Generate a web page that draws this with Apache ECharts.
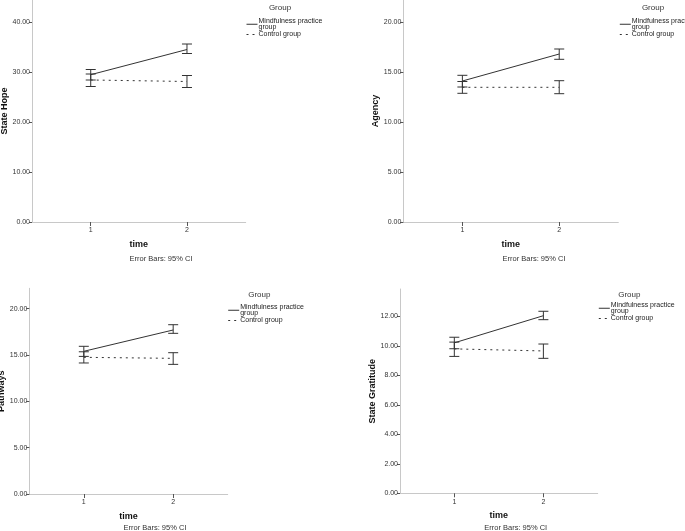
<!DOCTYPE html>
<html><head><meta charset="utf-8">
<script src="https://cdn.jsdelivr.net/npm/echarts@6/dist/echarts.min.js"></script>
<style>html,body{margin:0;padding:0;background:#fff}#c{width:685px;height:531px}</style>
</head><body><div id="c"></div>
<script>
// ---- data ----
const times = [1, 2];
const groupNames = ['Mindfulness practice group', 'Control group'];
const panelTitles = ['State Hope', 'Agency', 'Pathways', 'State Gratitude'];
const yTicks = [[0,10,20,30,40],[0,5,10,15,20],[0,5,10,15,20],[0,2,4,6,8,10,12]];
const yMax = [44.4, 22.2, 22.2, 13.85];

const hopeMind = [29.46, 34.5],  hopeMindLo = [28.4, 33.7],  hopeMindHi = [30.5, 35.6];
const hopeCtrl = [28.4, 28.1],   hopeCtrlLo = [27.1, 26.9],  hopeCtrlHi = [29.6, 29.3];
const agMind = [14.1, 16.8],     agMindLo = [13.5, 16.27],   agMindHi = [14.67, 17.3];
const agCtrl = [13.47, 13.47],   agCtrlLo = [12.87, 12.83],  agCtrlHi = [14.05, 14.13];
const paMind = [15.4, 17.7],     paMindLo = [14.85, 17.34],  paMindHi = [15.94, 18.27];
const paCtrl = [14.75, 14.64],   paCtrlLo = [14.14, 13.99],  paCtrlHi = [15.35, 15.25];
const grMind = [10.2, 12.04],    grMindLo = [9.8, 11.77],    grMindHi = [10.58, 12.34];
const grCtrl = [9.79, 9.65],     grCtrlLo = [9.28, 9.15],    grCtrlHi = [10.25, 10.12];

const panels = [
  {mind: hopeMind, mindLo: hopeMindLo, mindHi: hopeMindHi, ctrl: hopeCtrl, ctrlLo: hopeCtrlLo, ctrlHi: hopeCtrlHi},
  {mind: agMind, mindLo: agMindLo, mindHi: agMindHi, ctrl: agCtrl, ctrlLo: agCtrlLo, ctrlHi: agCtrlHi},
  {mind: paMind, mindLo: paMindLo, mindHi: paMindHi, ctrl: paCtrl, ctrlLo: paCtrlLo, ctrlHi: paCtrlHi},
  {mind: grMind, mindLo: grMindLo, mindHi: grMindHi, ctrl: grCtrl, ctrlLo: grCtrlLo, ctrlHi: grCtrlHi}
];

// ---- layout ----
const FONT = 'Liberation Sans, Arial, sans-serif';
const grids = [
  {left: 32, top: 0, width: 213.7, height: 222},
  {left: 403.3, top: 0, width: 215, height: 222},
  {left: 29.3, top: 288.3, width: 198.4, height: 205.7},
  {left: 400, top: 289, width: 197.7, height: 204.3}
];
const legendPos = [
  {left: 246, top: 17.5, groupX: 280, groupY: 7.5, ebX: 161, ebY: 259},
  {left: 619.3, top: 17.5, groupX: 653, groupY: 7.5, ebX: 534, ebY: 259},
  {left: 227.7, top: 303.5, groupX: 259.3, groupY: 295, ebX: 155, ebY: 527.5},
  {left: 598.3, top: 301.5, groupX: 629.3, groupY: 295, ebX: 515.7, ebY: 527.5}
];

const xAxes = [], yAxes = [], series = [], legends = [], graphics = [];

function errRender(params, api) {
  const x = api.value(0), lo = api.value(1), hi = api.value(2);
  const a = api.coord([x, hi]), b = api.coord([x, lo]);
  const hw = 5;
  const st = {stroke: '#333', lineWidth: 1};
  return {type: 'group', children: [
    {type: 'line', shape: {x1: a[0], y1: a[1], x2: b[0], y2: b[1]}, style: st},
    {type: 'line', shape: {x1: a[0]-hw, y1: a[1], x2: a[0]+hw, y2: a[1]}, style: st},
    {type: 'line', shape: {x1: b[0]-hw, y1: b[1], x2: b[0]+hw, y2: b[1]}, style: st}
  ]};
}

panels.forEach((p, i) => {
  xAxes.push({
    gridIndex: i, type: 'value', min: 0.39, max: 2.61,
    name: 'time', nameLocation: 'middle', nameGap: 18,
    nameTextStyle: {fontFamily: FONT, fontWeight: 'bold', fontSize: 9, color: '#111'},
    axisLine: {lineStyle: {color: '#c8c8c8', width: 1}},
    axisTick: {show: true, length: 4, customValues: times, lineStyle: {color: '#555'}},
    axisLabel: {customValues: times, formatter: v => String(v), fontFamily: FONT, fontSize: 7, color: '#333', margin: 5},
    splitLine: {show: false}
  });
  yAxes.push({
    gridIndex: i, type: 'value', min: 0, max: yMax[i],
    name: panelTitles[i], nameLocation: 'middle', nameGap: 20,
    nameTextStyle: {fontFamily: FONT, fontWeight: 'bold', fontSize: 9, color: '#111'},
    axisLine: {show: true, lineStyle: {color: '#c8c8c8', width: 1}},
    axisTick: {show: true, length: 3, customValues: yTicks[i], lineStyle: {color: '#555'}},
    axisLabel: {customValues: yTicks[i], formatter: v => v.toFixed(2), fontFamily: FONT, fontSize: 7, color: '#333', margin: 2},
    splitLine: {show: false}
  });
  series.push({
    name: groupNames[0], type: 'line', xAxisIndex: i, yAxisIndex: i,
    data: times.map((t, k) => [t, p.mind[k]]), symbol: 'none',
    lineStyle: {color: '#333', width: 1, type: 'solid'}, itemStyle: {color: '#333'}, silent: true
  });
  series.push({
    name: groupNames[1], type: 'line', xAxisIndex: i, yAxisIndex: i,
    data: times.map((t, k) => [t, p.ctrl[k]]), symbol: 'none',
    lineStyle: {color: '#333', width: 1, type: [2, 4]}, itemStyle: {color: '#333'}, silent: true
  });
  series.push({
    type: 'custom', xAxisIndex: i, yAxisIndex: i, renderItem: errRender, silent: true,
    encode: {x: 0, y: [1, 2]},
    data: times.map((t, k) => [t, p.mindLo[k], p.mindHi[k]])
  });
  series.push({
    type: 'custom', xAxisIndex: i, yAxisIndex: i, renderItem: errRender, silent: true,
    encode: {x: 0, y: [1, 2]},
    data: times.map((t, k) => [t, p.ctrlLo[k], p.ctrlHi[k]])
  });
  const lp = legendPos[i];
  legends.push({
    data: groupNames, orient: 'vertical', left: lp.left, top: lp.top, padding: 0,
    itemWidth: 11, itemHeight: 6, itemGap: 0, selectedMode: false,
    itemStyle: {opacity: 0},
    lineStyle: {width: 1},
    formatter: n => n === groupNames[0] ? 'Mindfulness practice\ngroup' : n,
    textStyle: {fontFamily: FONT, fontSize: 7, color: '#222', lineHeight: 6.5, padding: [0, 0, 0, -4]}
  });
  graphics.push({type: 'text', x: lp.groupX, y: lp.groupY,
    style: {text: 'Group', fontFamily: FONT, fontSize: 8, fill: '#333', textAlign: 'center', textVerticalAlign: 'middle'}});
  graphics.push({type: 'text', x: lp.ebX, y: lp.ebY,
    style: {text: 'Error Bars: 95% CI', fontFamily: FONT, fontSize: 7.5, fill: '#333', textAlign: 'center', textVerticalAlign: 'middle'}});
});

const chart = echarts.init(document.getElementById('c'), null, {renderer: 'canvas'});
chart.setOption({
  animation: false,
  backgroundColor: '#fff',
  grid: grids.map(g => Object.assign({containLabel: false, outerBoundsMode: 'none'}, g)),
  xAxis: xAxes, yAxis: yAxes, series: series, legend: legends, graphic: graphics
});
</script></body></html>
